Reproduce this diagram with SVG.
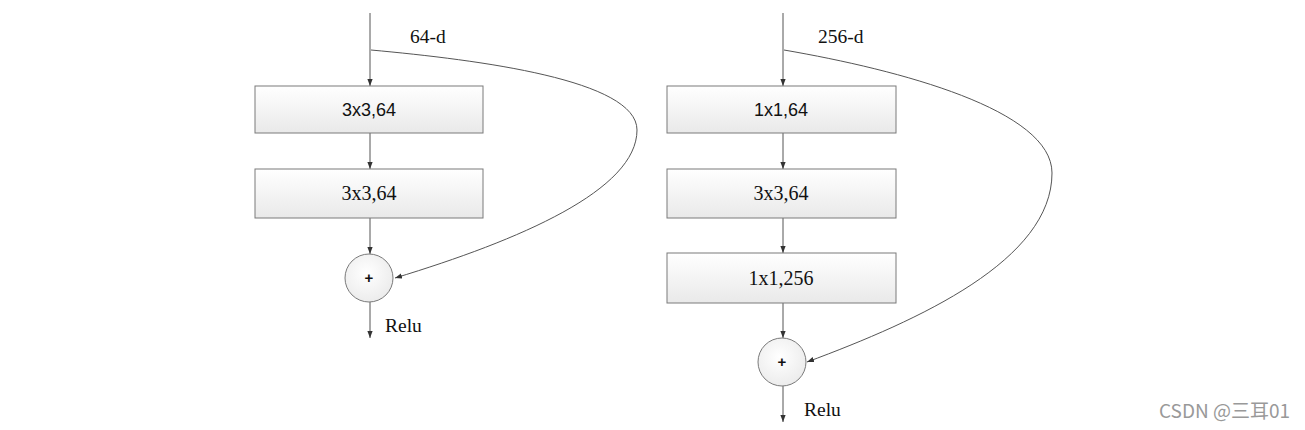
<svg xmlns="http://www.w3.org/2000/svg" width="1305" height="430" viewBox="0 0 1305 430">
<style>
.box{fill:url(#g);stroke:#7a7a7a;stroke-width:1}
.circ{fill:url(#gc);stroke:#7a7a7a;stroke-width:1}
.ln{fill:none;stroke:#555;stroke-width:1;marker-end:url(#ah)}
.sans{font-family:"Liberation Sans",Arial,sans-serif;font-size:18px;fill:#111;text-anchor:middle}
.serif{font-family:"Liberation Serif","Times New Roman",serif;font-size:20px;fill:#111;text-anchor:middle}
.lab{font-family:"Liberation Serif","Times New Roman",serif;font-size:19.5px;fill:#111}
.plus{font-family:"Liberation Sans",Arial,sans-serif;font-size:15px;font-weight:bold;fill:#111;text-anchor:middle}
.wm{font-family:"Noto Sans CJK SC","Noto Sans",sans-serif;font-size:19px;fill:#999}
</style>
<defs>
<linearGradient id="g" x1="0" y1="0" x2="0" y2="1"><stop offset="0" stop-color="#ffffff"/><stop offset="1" stop-color="#e9e9e9"/></linearGradient>
<radialGradient id="gc" cx="0.45" cy="0.4" r="0.6"><stop offset="0" stop-color="#ffffff"/><stop offset="1" stop-color="#ececec"/></radialGradient>
<marker id="ah" viewBox="0 0 8 8" refX="8" refY="4" markerWidth="7" markerHeight="7" markerUnits="userSpaceOnUse" orient="auto"><path d="M0,1 L8,4 L0,7 z" fill="#333"/></marker>
</defs>
<rect width="1305" height="430" fill="#fff"/>
<g id="connectors">
<line class="ln" x1="370" y1="13" x2="370" y2="86"/>
<line class="ln" x1="370" y1="133" x2="370" y2="169"/>
<line class="ln" x1="370" y1="218" x2="370" y2="254"/>
<line class="ln" x1="370" y1="302" x2="370" y2="338"/>
<path class="ln" d="M371,50 C480,60 637,80 637,130 C637,190 520,240 395,278"/>
<line class="ln" x1="783" y1="13" x2="783" y2="86"/>
<line class="ln" x1="783" y1="133" x2="783" y2="169"/>
<line class="ln" x1="783" y1="218" x2="783" y2="253"/>
<line class="ln" x1="783" y1="303" x2="783" y2="338"/>
<line class="ln" x1="783" y1="386" x2="783" y2="422"/>
<path class="ln" d="M784,50 C900,70 1052,110 1052,173 C1052,260 920,320 807,362"/>
</g>
<g id="label-64d"><text class="lab" x="410" y="43">64-d</text></g>
<g id="L-box1"><rect class="box" x="255" y="86" width="228" height="47"/><text class="sans" x="369" y="116">3x3,64</text></g>
<g id="L-box2"><rect class="box" x="255" y="169" width="228" height="49"/><text class="serif" x="369" y="200">3x3,64</text></g>
<g id="L-add"><circle class="circ" cx="369" cy="278" r="24"/><text class="plus" x="369" y="283">+</text></g>
<g id="L-relu"><text class="lab" x="385" y="332">Relu</text></g>
<g id="label-256d"><text class="lab" x="818" y="43">256-d</text></g>
<g id="R-box1"><rect class="box" x="667" y="86" width="229" height="47"/><text class="sans" x="781" y="116">1x1,64</text></g>
<g id="R-box2"><rect class="box" x="667" y="169" width="229" height="49"/><text class="serif" x="781" y="200">3x3,64</text></g>
<g id="R-box3"><rect class="box" x="667" y="253" width="229" height="50"/><text class="serif" x="781" y="285">1x1,256</text></g>
<g id="R-add"><circle class="circ" cx="782" cy="362" r="24"/><text class="plus" x="782" y="367">+</text></g>
<g id="R-relu"><text class="lab" x="804" y="416">Relu</text></g>
<text class="wm" x="1159" y="418">CSDN @三耳01</text>
</svg>
